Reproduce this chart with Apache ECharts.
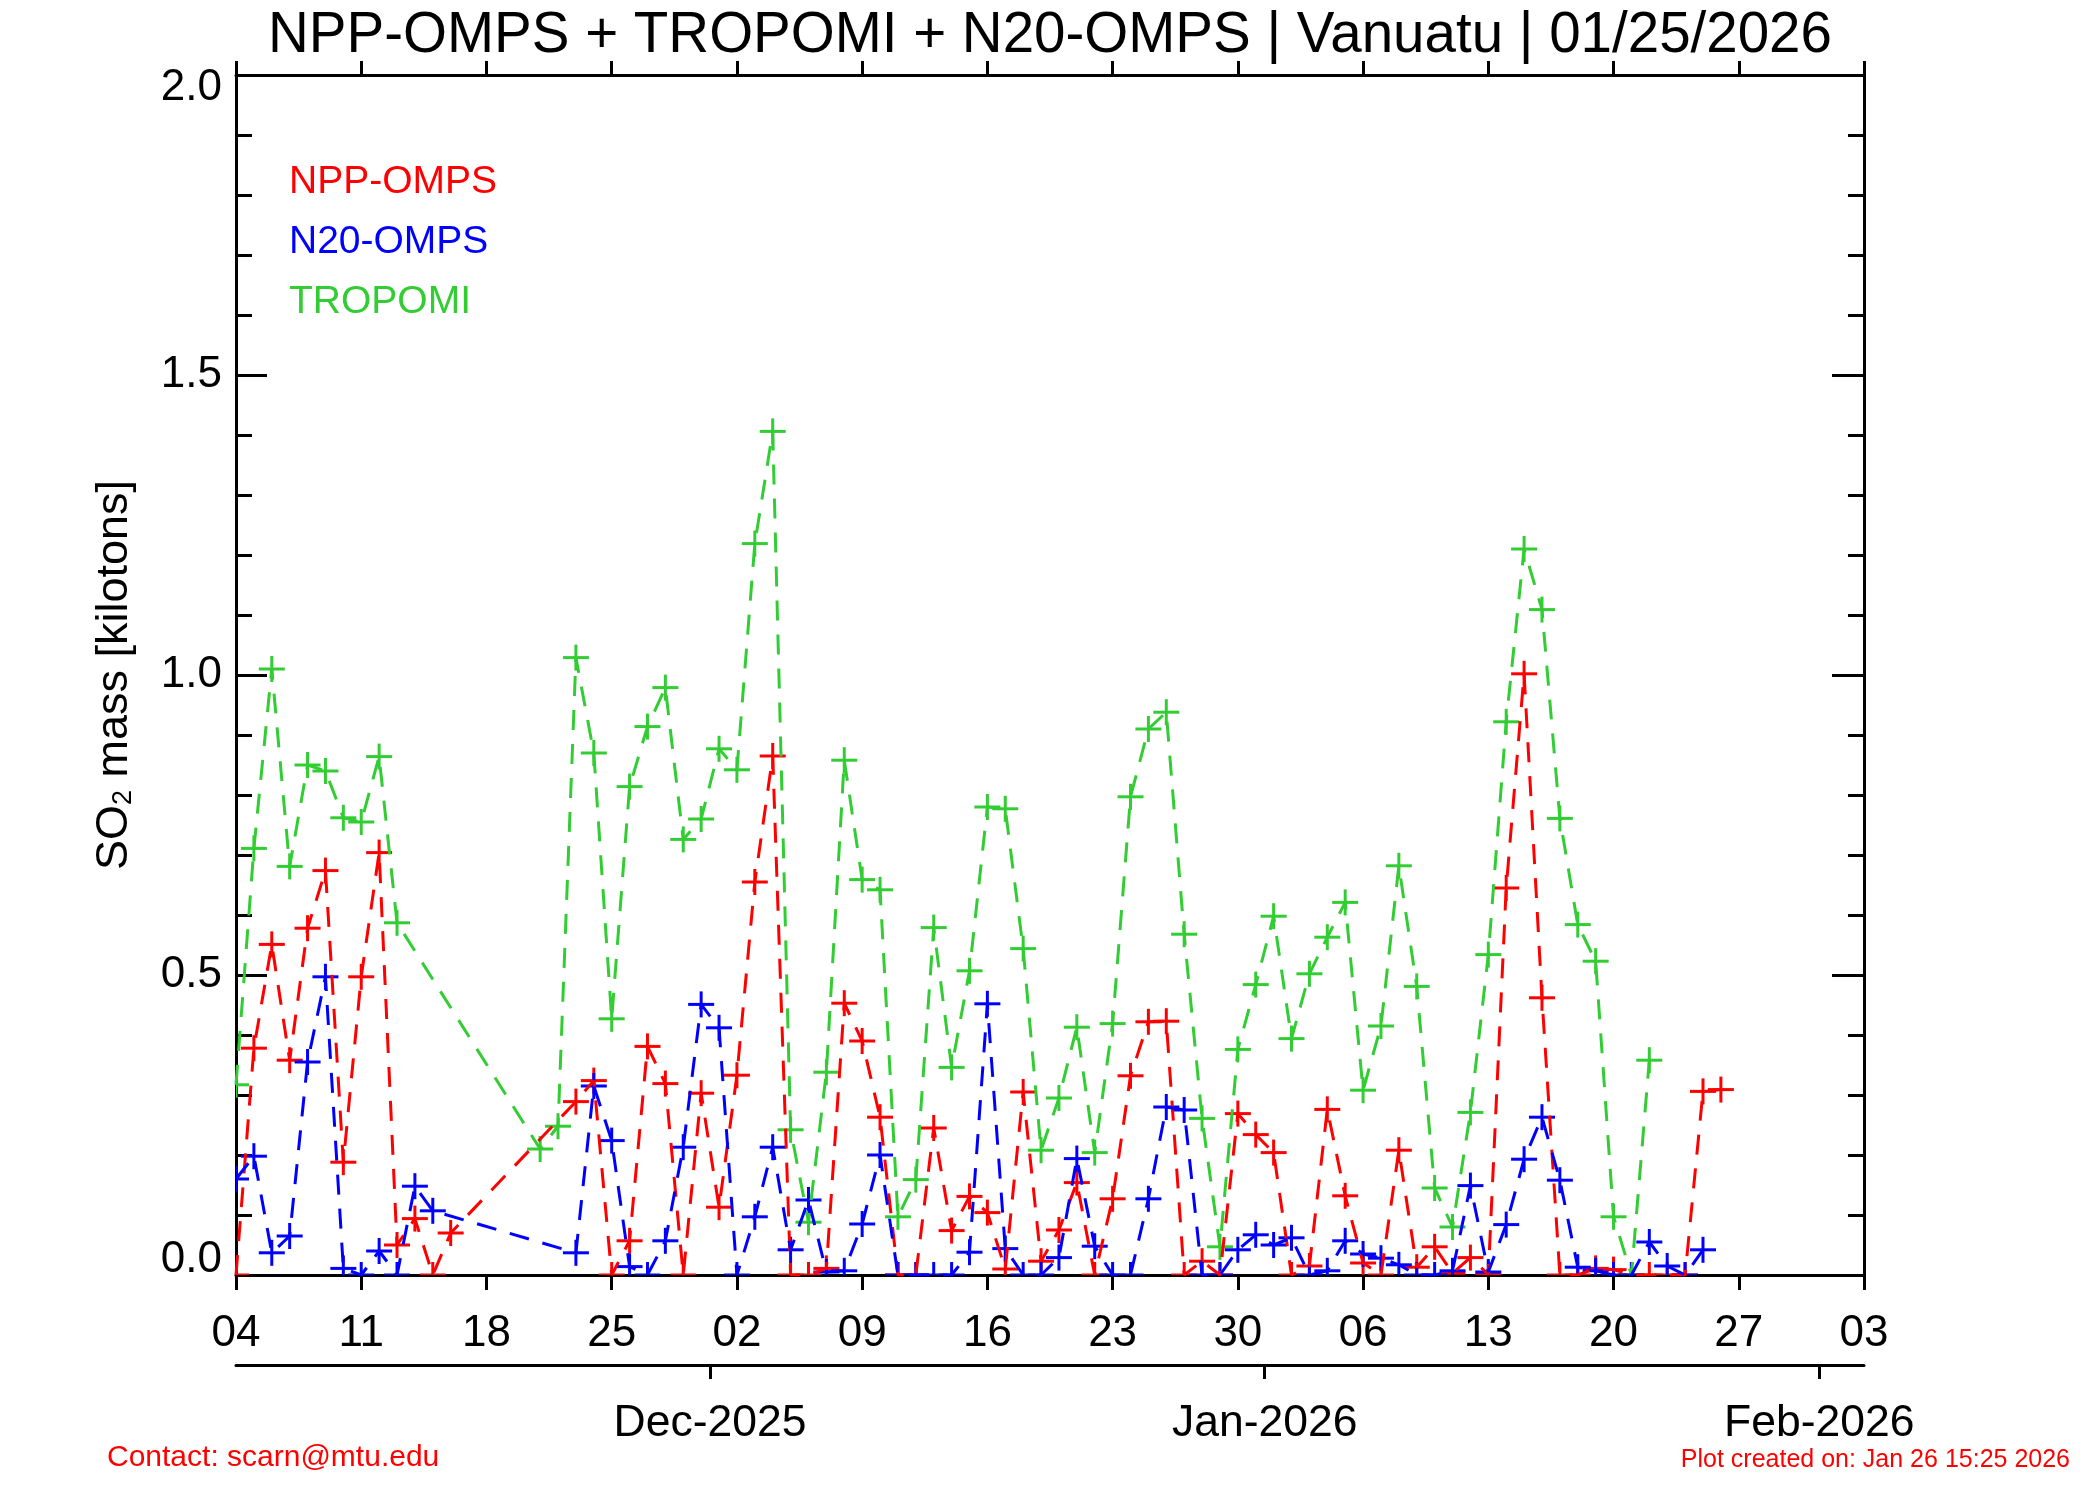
<!DOCTYPE html>
<html>
<head>
<meta charset="utf-8">
<title>SO2 mass - Vanuatu</title>
<script src="https://cdn.jsdelivr.net/npm/echarts@6/dist/echarts.min.js"></script>
<style>
  html, body { margin: 0; padding: 0; background: #fff; }
  #main { width: 2100px; height: 1500px; }
</style>
</head>
<body>
<div id="main"></div>
<script>
// day index 0 = 04 Nov 2025 (noon), one value per day, null = no overpass
const dayTickLabels = ['04', '11', '18', '25', '02', '09', '16', '23', '30', '06', '13', '20', '27', '03'];
const monthTicks = [26.5, 57.5, 88.5];
const monthLabels = ['Dec-2025', 'Jan-2026', 'Feb-2026'];

const nppOmps = [
    0, 0.378, 0.551, 0.358, 0.578, 0.674, 0.188, 0.497, 0.704, 0.05,
    0.094, 0, 0.07, null, null, null, null, null, null, 0.289,
    0.324, 0, 0.057, 0.381, 0.319, 0, 0.303, 0.113, 0.333, 0.655,
    0.865, 0, 0, 0.011, 0.453, 0.39, 0.263, 0, 0, 0.245,
    0.074, 0.131, 0.104, 0.01, 0.305, 0.023, 0.075, 0.154, 0, 0.127,
    0.332, 0.422, 0.423, 0, 0.023, 0, 0.269, 0.234, 0.204, 0,
    0.015, 0.276, 0.132, 0.02, 0, 0.208, 0.013, 0.047, 0.003, 0.029,
    0.001, 0.645, 1.002, 0.462, 0, 0, 0.011, 0.009, 0, 0,
    0, 0, 0.306, 0.309
];
const n20Omps = [
    0.16, 0.198, 0.037, 0.065, 0.355, 0.497, 0.011, 0, 0.04, 0,
    0.148, 0.107, null, null, null, null, null, null, null, 0.037,
    0.315, 0.224, 0.014, 0, 0.057, 0.213, 0.451, 0.412, 0, 0.097,
    0.213, 0.042, 0.125, 0.005, 0.007, 0.085, 0.2, 0, 0, 0,
    0, 0.038, 0.452, 0.044, 0, 0, 0.029, 0.194, 0.048, 0,
    0, 0.127, 0.28, 0.275, 0, 0, 0.042, 0.067, 0.05, 0.062,
    0, 0.007, 0.057, 0.035, 0.028, 0.017, 0, 0, 0.007, 0.149,
    0.005, 0.084, 0.193, 0.263, 0.158, 0.013, 0.007, 0, 0, 0.055,
    0.015, 0, 0.042
];
const tropomi = [
    0.317, 0.711, 1.01, 0.681, 0.85, 0.84, 0.762, 0.755, 0.864, 0.587,
    null, null, null, null, null, null, null, 0.21, 0.248, 1.029,
    0.87, 0.427, 0.814, 0.914, 0.979, 0.726, 0.76, 0.877, 0.842, 1.219,
    1.406, 0.242, 0.088, 0.338, 0.858, 0.659, 0.642, 0.097, 0.159, 0.579,
    0.346, 0.507, 0.78, 0.777, 0.544, 0.208, 0.295, 0.413, 0.204, 0.419,
    0.797, 0.91, 0.938, 0.568, 0.261, 0.047, 0.376, 0.484, 0.598, 0.394,
    0.502, 0.563, 0.621, 0.308, 0.415, 0.682, 0.481, 0.145, 0.08, 0.271,
    0.534, 0.922, 1.21, 1.109, 0.761, 0.584, 0.523, 0.097, 0, 0.358
];

const RED = '#ff0000', BLUE = '#0000ff', GREEN = '#32cd32';
const FONT = 'Liberation Sans, Arial, Helvetica, sans-serif';

function toPairs(arr) {
    return arr.map(function (v, i) { return [i, v]; });
}

function lineSeries(name, arr, color) {
    return {
        name: name,
        type: 'line',
        data: toPairs(arr),
        connectNulls: true,
        symbol: 'none',
        clip: true,
        animation: false,
        lineStyle: { color: color, width: 3, type: [20, 14] },
        itemStyle: { color: color }
    };
}

// "+" markers, clipped at the frame like the original plot
function plusSeries(name, arr, color) {
    return {
        name: name,
        type: 'custom',
        clip: true,
        animation: false,
        data: toPairs(arr).filter(function (d) { return d[1] != null; }),
        encode: { x: 0, y: 1 },
        itemStyle: { color: color },
        renderItem: function (params, api) {
            var p = api.coord([api.value(0), api.value(1)]);
            var h = 13;
            var st = { stroke: color, lineWidth: 3 };
            return {
                type: 'group',
                children: [
                    { type: 'line', shape: { x1: p[0] - h, y1: p[1], x2: p[0] + h, y2: p[1] }, style: st },
                    { type: 'line', shape: { x1: p[0], y1: p[1] - h, x2: p[0], y2: p[1] + h }, style: st }
                ]
            };
        }
    };
}

var axisLine = { show: true, onZero: false, lineStyle: { color: '#000', width: 3 } };
var tickStyle = { width: 3, color: '#000' };

var myChart = echarts.init(document.getElementById('main'));
var option = {
    backgroundColor: '#fff',
    animation: false,
    textStyle: { fontFamily: FONT },
    title: {
        text: 'NPP-OMPS + TROPOMI + N20-OMPS | Vanuatu | 01/25/2026',
        left: 'center',
        top: 3,
        textStyle: { fontFamily: FONT, fontSize: 56.5, fontWeight: 'normal', color: '#000' }
    },
    legend: {
        orient: 'vertical',
        left: 279,
        top: 158,
        icon: 'none',
        itemWidth: 0,
        itemGap: 21,
        selectedMode: false,
        textStyle: { fontFamily: FONT, fontSize: 39 },
        data: [
            { name: 'NPP-OMPS', textStyle: { color: RED } },
            { name: 'N20-OMPS', textStyle: { color: BLUE } },
            { name: 'TROPOMI', textStyle: { color: GREEN } }
        ]
    },
    grid: { left: 236, right: 236, top: 75, bottom: 225 },
    xAxis: [
        {
            type: 'value', position: 'bottom', min: 0, max: 91, interval: 7,
            axisLine: axisLine,
            axisTick: { show: true, inside: false, length: 15, lineStyle: tickStyle },
            splitLine: { show: false },
            axisLabel: {
                margin: 37, fontSize: 44, color: '#000', fontFamily: FONT,
                formatter: function (v) { return dayTickLabels[Math.round(v / 7)]; }
            }
        },
        {
            type: 'value', position: 'top', min: 0, max: 91, interval: 7,
            axisLine: axisLine,
            axisTick: { show: true, inside: false, length: 14, lineStyle: tickStyle },
            splitLine: { show: false },
            axisLabel: { show: false }
        },
        {
            type: 'value', position: 'bottom', offset: 90, min: 0, max: 91,
            axisLine: axisLine,
            axisTick: { show: true, inside: false, length: 14, customValues: monthTicks, lineStyle: tickStyle },
            splitLine: { show: false },
            axisLabel: {
                margin: 36, fontSize: 44.5, color: '#000', fontFamily: FONT,
                customValues: monthTicks,
                formatter: function (v) { return monthLabels[monthTicks.indexOf(v)]; }
            }
        }
    ],
    yAxis: [
        {
            type: 'value', position: 'left', min: 0, max: 2, interval: 0.5,
            name: 'SO{s|2} mass [kilotons]',
            nameLocation: 'middle',
            nameGap: 99,
            nameTextStyle: {
                fontFamily: FONT, fontSize: 45, color: '#000',
                rich: { s: { fontFamily: FONT, fontSize: 27, color: '#000', verticalAlign: 'bottom', lineHeight: 22 } }
            },
            axisLine: axisLine,
            axisTick: { show: true, inside: true, length: 31, lineStyle: tickStyle },
            minorTick: { show: true, splitNumber: 5, length: 16, lineStyle: tickStyle },
            splitLine: { show: false },
            axisLabel: {
                margin: 14, fontSize: 44, color: '#000', fontFamily: FONT,
                formatter: function (v) {
                    if (v >= 2) return '{top|' + v.toFixed(1) + '}';
                    if (v <= 0) return '{bot|' + v.toFixed(1) + '}';
                    return v.toFixed(1);
                },
                rich: {
                    top: { fontSize: 44, fontFamily: FONT, color: '#000', padding: [26, 0, 0, 0] },
                    bot: { fontSize: 44, fontFamily: FONT, color: '#000', padding: [0, 0, 30, 0] }
                }
            }
        },
        {
            type: 'value', position: 'right', min: 0, max: 2, interval: 0.5,
            axisLine: axisLine,
            axisTick: { show: true, inside: true, length: 32, lineStyle: tickStyle },
            minorTick: { show: true, splitNumber: 5, length: 16, lineStyle: tickStyle },
            splitLine: { show: false },
            axisLabel: { show: false }
        }
    ],
    graphic: [
        {
            type: 'text', left: 107, top: 1443,
            style: { text: 'Contact: scarn@mtu.edu', fill: RED, font: '30px ' + FONT }
        },
        {
            type: 'text', right: 30, top: 1448,
            style: { text: 'Plot created on: Jan 26 15:25 2026', fill: RED, font: '25px ' + FONT }
        }
    ],
    series: [
        lineSeries('NPP-OMPS', nppOmps, RED),
        plusSeries('NPP-OMPS', nppOmps, RED),
        lineSeries('TROPOMI', tropomi, GREEN),
        plusSeries('TROPOMI', tropomi, GREEN),
        lineSeries('N20-OMPS', n20Omps, BLUE),
        plusSeries('N20-OMPS', n20Omps, BLUE)
    ]
};
myChart.setOption(option);
</script>
</body>
</html>
